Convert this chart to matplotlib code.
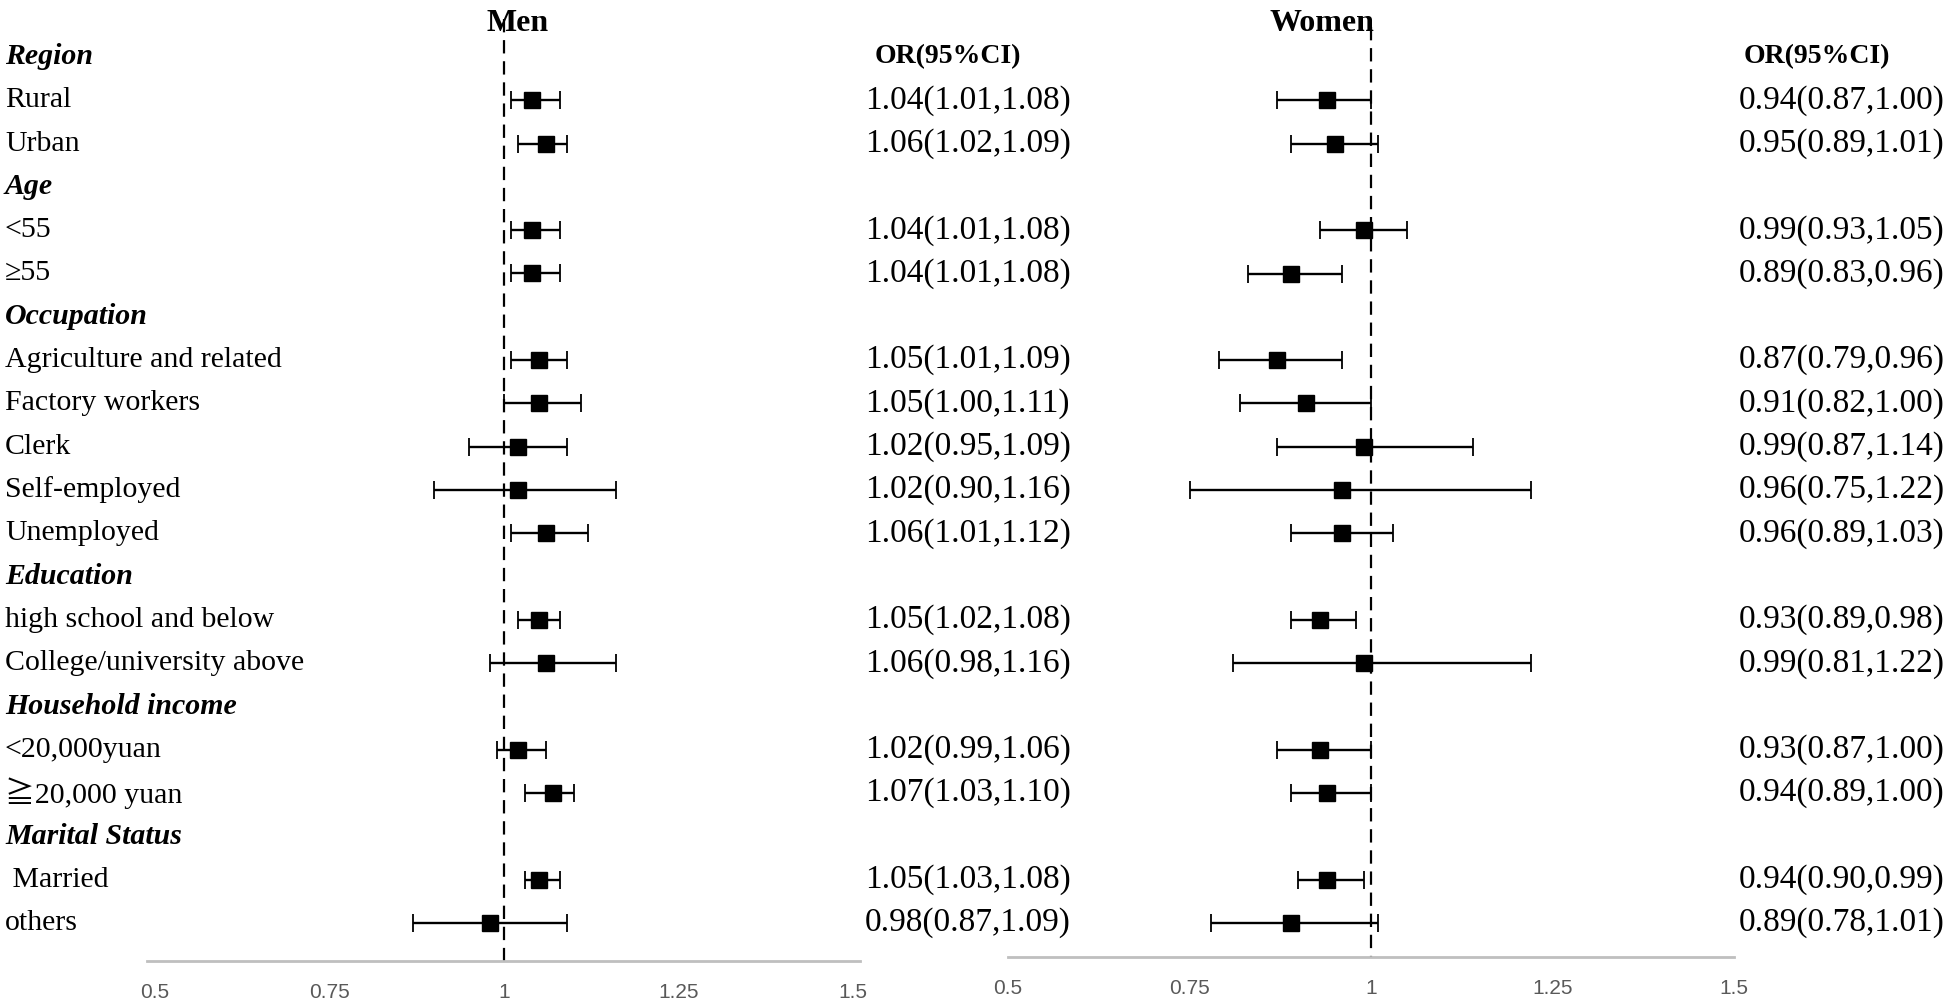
import matplotlib.pyplot as plt
from matplotlib.transforms import blended_transform_factory

# rows of the forest plot (True = group header)
row_labels = ['Region', 'Rural', 'Urban',
              'Age', '<55', '\u226555',
              'Occupation', 'Agriculture and related', 'Factory workers', 'Clerk',
              'Self-employed', 'Unemployed',
              'Education', 'high school and below', 'College/university above',
              'Household income', '<20,000yuan', '\u226720,000 yuan',
              'Marital Status', ' Married', 'others']
row_header = [True, False, False,
              True, False, False,
              True, False, False, False, False, False,
              True, False, False,
              True, False, False,
              True, False, False]

# odds ratios and 95% CI for each non-header row
men_or = [1.04, 1.06, 1.04, 1.04, 1.05, 1.05, 1.02, 1.02, 1.06, 1.05, 1.06, 1.02, 1.07, 1.05, 0.98]
men_lo = [1.01, 1.02, 1.01, 1.01, 1.01, 1.00, 0.95, 0.90, 1.01, 1.02, 0.98, 0.99, 1.03, 1.03, 0.87]
men_hi = [1.08, 1.09, 1.08, 1.08, 1.09, 1.11, 1.09, 1.16, 1.12, 1.08, 1.16, 1.06, 1.10, 1.08, 1.09]

women_or = [0.94, 0.95, 0.99, 0.89, 0.87, 0.91, 0.99, 0.96, 0.96, 0.93, 0.99, 0.93, 0.94, 0.94, 0.89]
women_lo = [0.87, 0.89, 0.93, 0.83, 0.79, 0.82, 0.87, 0.75, 0.89, 0.89, 0.81, 0.87, 0.89, 0.90, 0.78]
women_hi = [1.00, 1.01, 1.05, 0.96, 0.96, 1.00, 1.14, 1.22, 1.03, 0.98, 1.22, 1.00, 1.00, 0.99, 1.01]

xticks = [0.5, 0.75, 1, 1.25, 1.5]
xtick_labels = ['0.5', '0.75', '1', '1.25', '1.5']

W, H = 1946, 1005
serif = ['Liberation Serif', 'DejaVu Serif', 'Noto Sans CJK SC']
tickfont = ['Liberation Sans Narrow', 'Liberation Sans', 'DejaVu Sans']

fig = plt.figure(figsize=(W / 100, H / 100), dpi=100)

row_top_px = 57
row_step_px = 43.3
data_rows = [i for i, h in enumerate(row_header) if not h]


def px_to_row(py):
    return (py - row_top_px) / row_step_px


def make_panel(left_px, right_px, xlim, axis_px, dash_top, title, title_x,
               ors, los, his, text_x, head_x):
    ax = fig.add_axes([left_px / W, 1 - axis_px / H, (right_px - left_px) / W, axis_px / H])
    ax.patch.set_visible(False)
    ax.set_xlim(*xlim)
    ax.set_ylim(px_to_row(axis_px), px_to_row(0))
    for s in ['top', 'left', 'right']:
        ax.spines[s].set_visible(False)
    ax.spines['bottom'].set_color('#bfbfbf')
    ax.spines['bottom'].set_linewidth(2)
    ax.set_yticks([])
    ax.set_xticks(xticks)
    ax.set_xticklabels(xtick_labels, fontfamily=tickfont, fontsize=15, color='#595959')
    ax.tick_params(axis='x', length=0, pad=16)

    ax.plot([1, 1], [px_to_row(dash_top), px_to_row(axis_px)], color='black',
            linestyle=(0, (6, 3.5)), linewidth=1.6, zorder=1)

    ys = data_rows
    ax.errorbar(ors, ys, xerr=[[o - l for o, l in zip(ors, los)], [h - o for o, h in zip(ors, his)]],
                fmt='s', color='black', markersize=11, elinewidth=1.7, capsize=6.5, capthick=1.3,
                zorder=3)

    fig.text(title_x / W, 1 - 31 / H, title, ha='center', va='baseline',
             fontfamily=serif, fontsize=23, fontweight='bold')

    tr = blended_transform_factory(fig.transFigure, ax.transData)
    ax.text(head_x / W, 0, 'OR(95%CI)', transform=tr, ha='left', va='center',
            fontfamily=serif, fontsize=20, fontweight='bold')
    for y, o, l, h in zip(ys, ors, los, his):
        ax.text(text_x / W, y, f'{o:.2f}({l:.2f},{h:.2f})', transform=tr,
                ha='left', va='center', fontfamily=serif, fontsize=24)
    return ax


ax_m = make_panel(147, 860, (0.4885, 1.510), 961, 19, 'Men', 518,
                  men_or, men_lo, men_hi, 865, 875)
ax_w = make_panel(1008, 1734, (0.5, 1.5), 957, 27, 'Women', 1322,
                  women_or, women_lo, women_hi, 1739, 1744)

tr = blended_transform_factory(fig.transFigure, ax_m.transData)
for i, (lab, head) in enumerate(zip(row_labels, row_header)):
    if head:
        ax_m.text(5 / W, i, lab, transform=tr, ha='left', va='center', fontfamily=serif,
                  fontsize=21.5, fontweight='bold', fontstyle='italic')
    else:
        ax_m.text(5 / W, i, lab, transform=tr, ha='left', va='center', fontfamily=serif,
                  fontsize=21.5)

fig.savefig('out.png', dpi=100)
